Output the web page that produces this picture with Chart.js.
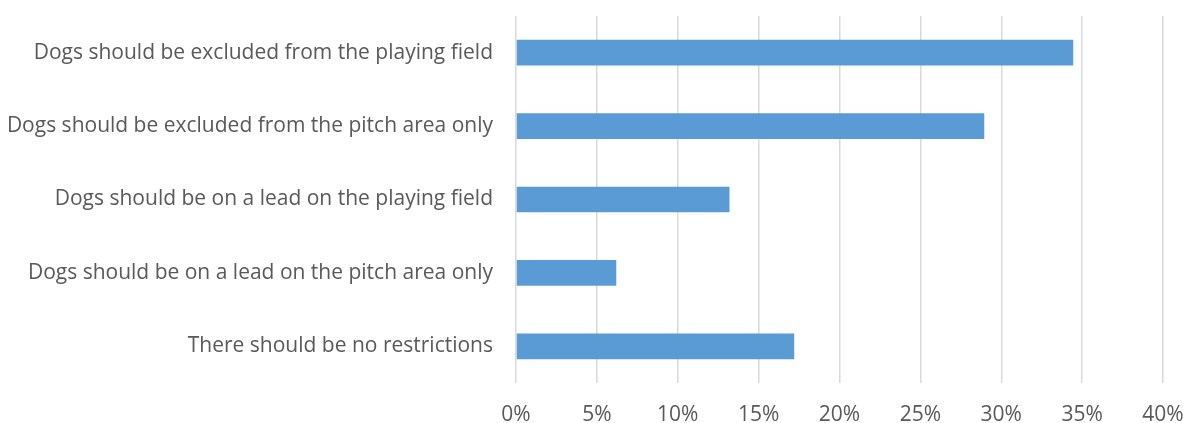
<!DOCTYPE html>
<html>
<head>
<meta charset="utf-8">
<script src="https://cdn.jsdelivr.net/npm/chart.js@4"></script>
<style>
  html, body { margin: 0; padding: 0; background: #fff; }
  #wrap { width: 1183px; height: 423px; }
</style>
</head>
<body>
<div id="wrap"><canvas id="dogsChart" width="1183" height="423"></canvas></div>
<script>
// chart data
const categories = [
    "Dogs should be excluded from the playing field",
    "Dogs should be excluded from the pitch area only",
    "Dogs should be on a lead on the playing field",
    "Dogs should be on a lead on the pitch area only",
    "There should be no restrictions"
];
const percentValues = [34.45, 28.95, 13.2, 6.2, 17.2];
const tickValues = [0, 5, 10, 15, 20, 25, 30, 35, 40];

const textColor = "#595959";
const fontFamily = "'Open Sans', 'Liberation Sans', sans-serif";

const ctx = document.getElementById("dogsChart");

new Chart(ctx, {
    type: "bar",
    data: {
        labels: categories,
        datasets: [{
            data: percentValues,
            backgroundColor: "#5B9BD5",
            borderWidth: 0,
            categoryPercentage: 1,
            barPercentage: 0.35
        }]
    },
    options: {
        indexAxis: "y",
        responsive: false,
        animation: false,
        layout: {
            padding: { top: 16, right: 20, left: 0, bottom: 0 }
        },
        plugins: {
            legend: { display: false },
            tooltip: { enabled: false }
        },
        scales: {
            x: {
                min: 0,
                max: 40,
                afterBuildTicks: (scale) => {
                    scale.ticks = tickValues.map(v => ({ value: v }));
                },
                afterFit: (scale) => {
                    scale.height = 40;
                    scale.paddingLeft = 0;
                    scale.paddingRight = 0;
                },
                grid: {
                    color: "#D9D9D9",
                    lineWidth: 1.5,
                    drawTicks: false
                },
                border: { display: false },
                ticks: {
                    padding: 19,
                    color: textColor,
                    font: { family: fontFamily, size: 21 },
                    callback: (v) => v + "%"
                }
            },
            y: {
                afterFit: (scale) => {
                    scale.width = 516;
                    scale.paddingTop = 0;
                    scale.paddingBottom = 0;
                },
                grid: { display: false, drawTicks: false },
                border: { display: false },
                ticks: {
                    padding: 23,
                    color: textColor,
                    font: { family: fontFamily, size: 21 }
                }
            }
        }
    }
});
</script>
</body>
</html>
